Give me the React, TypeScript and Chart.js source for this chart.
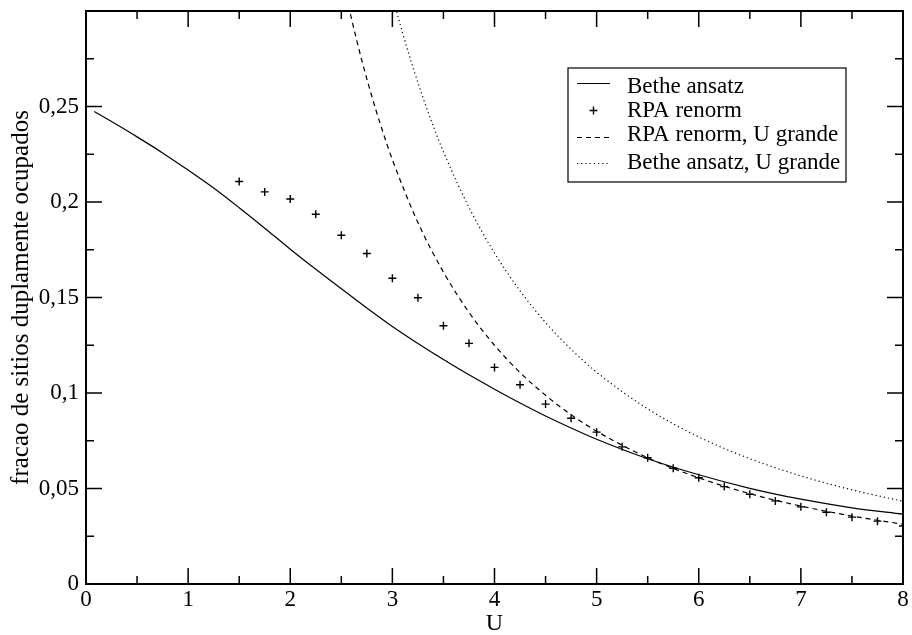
import { useEffect, useRef } from 'react';
import { Chart, registerables } from 'chart.js';

Chart.register(...registerables);

// Bethe ansatz (solid)
const betheU = [0.08, 0.25, 0.5, 0.75, 1.0, 1.25, 1.5, 1.75, 2.0, 2.25, 2.5, 2.75, 3.0, 3.25, 3.5, 3.75, 4.0, 4.25, 4.5, 4.75, 5.0, 5.5, 6.0, 6.5, 7.0, 7.5, 8.0];
const betheD = [0.2474, 0.2421, 0.2341, 0.2257, 0.2167, 0.2073, 0.197, 0.1863, 0.1753, 0.1648, 0.1546, 0.1445, 0.1348, 0.1259, 0.1175, 0.1095, 0.102, 0.0948, 0.088, 0.0817, 0.0758, 0.0656, 0.0572, 0.0501, 0.0444, 0.0399, 0.0366];

// RPA renorm (crosses)
const rpaU = [1.5, 1.75, 2.0, 2.25, 2.5, 2.75, 3.0, 3.25, 3.5, 3.75, 4.0, 4.25, 4.5, 4.75, 5.0, 5.25, 5.5, 5.75, 6.0, 6.25, 6.5, 6.75, 7.0, 7.25, 7.5, 7.75, 8.0];
const rpaD = [0.2107, 0.2053, 0.2016, 0.1936, 0.1826, 0.173, 0.1601, 0.1499, 0.1352, 0.126, 0.1134, 0.1043, 0.0942, 0.0868, 0.0795, 0.0718, 0.0661, 0.0606, 0.0556, 0.051, 0.047, 0.0435, 0.0404, 0.0376, 0.035, 0.0329, 0.0304];

// RPA renorm, U grande (dashed)
const rpaLargeU = [2.55, 2.6, 2.7, 2.8, 2.9, 3.0, 3.25, 3.5, 3.75, 4.0, 4.25, 4.5, 4.75, 5.0, 5.5, 6.0, 6.5, 7.0, 7.5, 8.0];
const rpaLargeD = [0.3076, 0.2959, 0.2743, 0.2551, 0.2378, 0.2222, 0.1893, 0.1633, 0.1422, 0.125, 0.1107, 0.0988, 0.0886, 0.08, 0.0661, 0.0556, 0.0473, 0.0408, 0.0356, 0.0313];

// Bethe ansatz, U grande (dotted)
const betheLargeU = [3.0, 3.05, 3.1, 3.2, 3.3, 3.4, 3.5, 3.75, 4.0, 4.25, 4.5, 4.75, 5.0, 5.5, 6.0, 6.5, 7.0, 7.5, 8.0];
const betheLargeD = [0.3081, 0.2981, 0.2885, 0.2708, 0.2546, 0.2398, 0.2263, 0.1972, 0.1733, 0.1535, 0.1369, 0.1229, 0.1109, 0.0917, 0.077, 0.0656, 0.0566, 0.0493, 0.0433];

const seriesLabels = ['Bethe ansatz', 'RPA renorm', 'RPA renorm, U grande', 'Bethe ansatz, U grande'];

const xTickLabels = ['0', '1', '2', '3', '4', '5', '6', '7', '8'];
const yTickLabels = ['0', '0,05', '0,1', '0,15', '0,2', '0,25'];
const xMajorTicks = [0, 1, 2, 3, 4, 5, 6, 7, 8];
const xMinorTicks = [0.5, 1.5, 2.5, 3.5, 4.5, 5.5, 6.5, 7.5];
const yMajorTicks = [0, 0.05, 0.1, 0.15, 0.2, 0.25, 0.3];
const yMinorTicks = [0.025, 0.075, 0.125, 0.175, 0.225, 0.275];

const xTitle = 'U';
const yTitle = 'fracao de sitios duplamente ocupados';

const FONT = "'Liberation Serif', 'Times New Roman', serif";

const pts = (xs: number[], ys: number[]) => xs.map((x, i) => ({ x, y: ys[i] }));

const framePlugin = {
  id: 'frameTicks',
  afterDatasetsDraw(chart: any) {
    const { ctx, chartArea: a, scales } = chart;
    const x = scales.x;
    const y = scales.y;
    ctx.save();
    ctx.strokeStyle = '#000';
    ctx.lineWidth = 1.5;
    ctx.beginPath();
    const xt = (vals: number[], len: number) => {
      for (const v of vals) {
        const px = x.getPixelForValue(v);
        ctx.moveTo(px, a.bottom);
        ctx.lineTo(px, a.bottom - len);
        ctx.moveTo(px, a.top);
        ctx.lineTo(px, a.top + len);
      }
    };
    const yt = (vals: number[], len: number) => {
      for (const v of vals) {
        const py = y.getPixelForValue(v);
        ctx.moveTo(a.left, py);
        ctx.lineTo(a.left + len, py);
        ctx.moveTo(a.right, py);
        ctx.lineTo(a.right - len, py);
      }
    };
    xt(xMajorTicks, 16);
    xt(xMinorTicks, 8);
    yt(yMajorTicks, 16);
    yt(yMinorTicks, 8);
    ctx.stroke();
    ctx.lineWidth = 2;
    ctx.strokeRect(a.left, a.top, a.right - a.left, a.bottom - a.top);
    ctx.restore();
  },
};

const legendPlugin = {
  id: 'boxLegend',
  afterDraw(chart: any) {
    const { ctx } = chart;
    const ds = chart.data.datasets;
    const box = { x: 568, y: 68, w: 278, h: 114 };
    const sampleX0 = 577;
    const sampleX1 = 610;
    const textX = 627;
    const sampleY = [83.5, 110.5, 137.5, 163.5];
    const textY = [92.5, 116.5, 140.5, 169];
    ctx.save();
    ctx.fillStyle = '#fff';
    ctx.fillRect(box.x, box.y, box.w, box.h);
    ctx.strokeStyle = '#000';
    ctx.lineWidth = 1.2;
    ctx.strokeRect(box.x, box.y, box.w, box.h);
    ds.forEach((d: any, i: number) => {
      ctx.save();
      ctx.strokeStyle = '#000';
      if (d.showLine === false) {
        const cx = (sampleX0 + sampleX1) / 2;
        const r = d.pointRadius;
        ctx.lineWidth = d.pointBorderWidth || 1.3;
        ctx.beginPath();
        ctx.moveTo(cx - r, sampleY[i]);
        ctx.lineTo(cx + r, sampleY[i]);
        ctx.moveTo(cx, sampleY[i] - r);
        ctx.lineTo(cx, sampleY[i] + r);
        ctx.stroke();
      } else {
        ctx.lineWidth = d.borderWidth;
        ctx.setLineDash(d.borderDash || []);
        ctx.beginPath();
        ctx.moveTo(sampleX0, sampleY[i]);
        ctx.lineTo(sampleX1, sampleY[i]);
        ctx.stroke();
      }
      ctx.restore();
      ctx.fillStyle = '#000';
      ctx.font = `23px ${FONT}`;
      ctx.textAlign = 'left';
      ctx.textBaseline = 'alphabetic';
      ctx.fillText(d.label, textX, textY[i]);
    });
    ctx.restore();
  },
};

export default function App() {
  const ref = useRef<HTMLCanvasElement>(null);

  useEffect(() => {
    const canvas = ref.current;
    if (!canvas) return;
    Chart.defaults.font.family = FONT;
    Chart.defaults.color = '#000';
    const chart = new Chart(canvas, {
      type: 'scatter',
      data: {
        datasets: [
          {
            label: seriesLabels[0],
            data: pts(betheU, betheD),
            showLine: true,
            borderColor: '#000',
            backgroundColor: '#000',
            borderWidth: 1.2,
            pointRadius: 0,
            cubicInterpolationMode: 'monotone',
          },
          {
            label: seriesLabels[1],
            data: pts(rpaU, rpaD),
            showLine: false,
            pointStyle: 'cross',
            pointRadius: 4,
            pointBorderWidth: 1.4,
            borderColor: '#000',
            backgroundColor: '#000',
          },
          {
            label: seriesLabels[2],
            data: pts(rpaLargeU, rpaLargeD),
            showLine: true,
            borderColor: '#000',
            backgroundColor: '#000',
            borderWidth: 1.2,
            borderDash: [5, 4],
            pointRadius: 0,
            cubicInterpolationMode: 'monotone',
          },
          {
            label: seriesLabels[3],
            data: pts(betheLargeU, betheLargeD),
            showLine: true,
            borderColor: '#000',
            backgroundColor: '#000',
            borderWidth: 1.2,
            borderDash: [1.2, 3],
            pointRadius: 0,
            cubicInterpolationMode: 'monotone',
          },
        ],
      } as any,
      options: {
        animation: false,
        responsive: false,
        devicePixelRatio: 1,
        layout: { padding: { top: 11, right: 9, left: 0, bottom: 0 } },
        plugins: {
          legend: { display: false },
          tooltip: { enabled: false },
        },
        scales: {
          x: {
            type: 'linear',
            min: 0,
            max: 8,
            grid: { display: false, drawTicks: false },
            border: { display: false },
            ticks: {
              stepSize: 1,
              autoSkip: false,
              maxRotation: 0,
              padding: 2,
              color: '#000',
              font: { size: 23, family: FONT },
              callback: (_v: any, i: number) => xTickLabels[i] ?? '',
            },
            title: {
              display: true,
              text: xTitle,
              color: '#000',
              font: { size: 24, family: FONT, lineHeight: 1 },
              padding: { top: 0, bottom: -1 },
            },
            afterFit: (s: any) => {
              s.height = 51;
              s.paddingLeft = 0;
              s.paddingRight = 0;
            },
          },
          y: {
            type: 'linear',
            min: 0,
            max: 0.3,
            grid: { display: false, drawTicks: false },
            border: { display: false },
            ticks: {
              stepSize: 0.05,
              autoSkip: false,
              padding: 7,
              color: '#000',
              font: { size: 23, family: FONT },
              callback: (_v: any, i: number) => yTickLabels[i] ?? '',
            },
            title: {
              display: true,
              text: yTitle,
              color: '#000',
              font: { size: 25, family: FONT, lineHeight: 1 },
              padding: { top: 8.5, bottom: 0 },
            },
            afterFit: (s: any) => {
              s.width = 86;
              s.paddingTop = 0;
              s.paddingBottom = 0;
            },
          },
        },
      } as any,
      plugins: [framePlugin, legendPlugin],
    });
    return () => chart.destroy();
  }, []);

  return (
    <div style={{ position: 'absolute', left: 0, top: 0, width: 912, height: 635, background: '#fff' }}>
      <canvas ref={ref} width={912} height={635} style={{ display: 'block' }} />
    </div>
  );
}
